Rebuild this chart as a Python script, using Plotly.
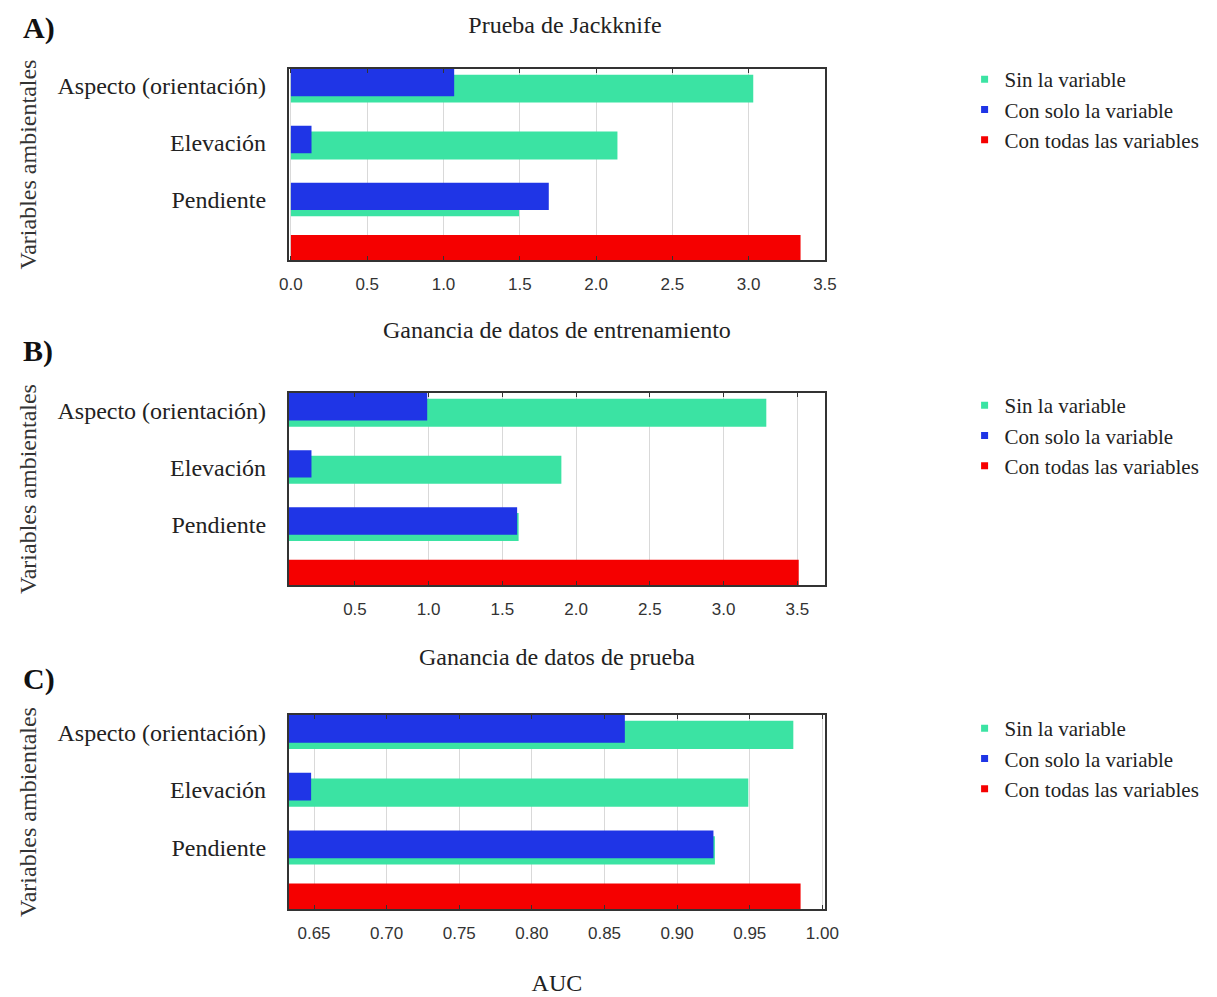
import numpy as np
import plotly.graph_objects as go

# ---- data -------------------------------------------------------------
variables = ["Aspecto (orientación)", "Elevación", "Pendiente"]

# A) regularized training gain
train_sin = [3.03, 2.14, 1.495]
train_solo = [1.07, 0.135, 1.69]
train_todas = 3.34

# B) test gain
test_sin = [3.29, 1.90, 1.61]
test_solo = [0.99, 0.205, 1.60]
test_todas = 3.51

# C) AUC
auc_sin = [0.980, 0.949, 0.926]
auc_solo = [0.864, 0.648, 0.925]
auc_todas = 0.985

legend_names = ["Sin la variable", "Con solo la variable", "Con todas las variables"]
panel_tags = ["A)", "B)", "C)"]
x_titles = ["Ganancia de datos de entrenamiento", "Ganancia de datos de prueba", "AUC"]
y_title = "Variables ambientales"
main_title = "Prueba de Jackknife"

# ---- styling ----------------------------------------------------------
W, H = 1217, 997
GREEN, BLUE, RED = "#3be3a3", "#1f35e6", "#f50000"
SERIF = "Liberation Serif"
SANS = "Liberation Sans"


def fx(p):
    return p / W


def fy(p):
    return 1 - p / H


panels = [
    dict(sin=train_sin, solo=train_solo, todas=train_todas, top=69, bottom=260,
         xr=[-0.015, 3.502], tick0=0.0, dtick=0.5, fmt=".1f", leg_top=59,
         tag_y=28, title_off=28),
    dict(sin=test_sin, solo=test_solo, todas=test_todas, top=393, bottom=585,
         xr=[0.05, 3.69], tick0=0.0, dtick=0.5, fmt=".1f", leg_top=385,
         tag_y=351, title_off=30),
    dict(sin=auc_sin, solo=auc_solo, todas=auc_todas, top=715, bottom=909,
         xr=[0.6325, 1.002], tick0=0.65, dtick=0.05, fmt=".2f", leg_top=708,
         tag_y=679, title_off=32),
]

n = len(variables)
idx = np.arange(n)
Y_RANGE = [3.36, 0.0]          # top of the panel at 0, categories go downward
grid_pos = list(np.arange(n + 1) + 0.18)
label_pos = list(idx + 0.3)

fig = go.Figure()
layout = dict(
    width=W, height=H,
    margin=dict(l=0, r=0, t=0, b=0),
    paper_bgcolor="white", plot_bgcolor="white",
    barmode="overlay",
    showlegend=True,
    title=dict(text=main_title, x=fx(565), y=fy(25), xanchor="center", yanchor="middle",
               font=dict(family=SERIF, size=24, color="#222")),
    annotations=[],
)

for i, p in enumerate(panels, start=1):
    xa = "x" if i == 1 else f"x{i}"
    ya = "y" if i == 1 else f"y{i}"
    leg = "legend" if i == 1 else f"legend{i}"

    # bar without the variable (drawn first, slightly lower)
    fig.add_trace(go.Bar(
        x=p["sin"], y=idx + 0.345, width=0.49, orientation="h",
        marker=dict(color=GREEN, line=dict(width=0)),
        xaxis=xa, yaxis=ya, showlegend=False, hoverinfo="x"))
    # bar with only the variable
    fig.add_trace(go.Bar(
        x=p["solo"], y=idx + 0.24, width=0.48, orientation="h",
        marker=dict(color=BLUE, line=dict(width=0)),
        xaxis=xa, yaxis=ya, showlegend=False, hoverinfo="x"))
    # bar with all the variables
    fig.add_trace(go.Bar(
        x=[p["todas"]], y=[n + 0.15], width=0.46, orientation="h",
        marker=dict(color=RED, line=dict(width=0)),
        xaxis=xa, yaxis=ya, showlegend=False, hoverinfo="x"))

    # legend entries with small square swatches
    for name, col in zip(legend_names, [GREEN, BLUE, RED]):
        fig.add_trace(go.Scatter(
            x=[None], y=[None], mode="markers", name=name,
            marker=dict(symbol="square", size=7, color=col),
            xaxis=xa, yaxis=ya, legend=leg, showlegend=True))

    xdom = [fx(285), fx(832)]
    ydom = [fy(p["bottom"]), fy(p["top"])]

    layout["xaxis" if i == 1 else f"xaxis{i}"] = dict(
        domain=xdom, anchor=ya, range=p["xr"], tick0=p["tick0"], dtick=p["dtick"],
        tickformat=p["fmt"], showgrid=True, gridcolor="#d9d9d9", gridwidth=1,
        zeroline=False, showline=True, linecolor="#333", linewidth=1.5, mirror="ticks",
        ticks="inside", ticklen=4, tickcolor="#333",
        tickfont=dict(family=SANS, size=17, color="#333"), ticklabelstandoff=8,
        title=dict(text=x_titles[i - 1], standoff=p["title_off"],
                   font=dict(family=SERIF, size=24, color="#222")),
    )
    # main y axis: variable names and frame
    layout["yaxis" if i == 1 else f"yaxis{i}"] = dict(
        domain=ydom, anchor=xa, range=Y_RANGE, tickmode="array",
        tickvals=label_pos, ticktext=variables, ticks="", showgrid=False,
        zeroline=False, showline=True, linecolor="#333", linewidth=1.5, mirror=True,
        tickfont=dict(family=SERIF, size=24, color="#222"), ticklabelstandoff=16,
        title=dict(text=y_title, standoff=14,
                   font=dict(family=SERIF, size=24, color="#333")),
    )
    # overlay y axis carrying the category grid lines and tick marks
    layout[f"yaxis{i + 3}"] = dict(
        overlaying=ya, anchor=xa, range=Y_RANGE, tickmode="array",
        tickvals=grid_pos, showticklabels=False, showgrid=True, gridcolor="#d9d9d9",
        zeroline=False, showline=False, ticks="inside", ticklen=4, tickcolor="#333",
        mirror="ticks",
    )

    layout[leg] = dict(
        x=fx(974), y=fy(p["leg_top"]), xanchor="left", yanchor="top",
        bgcolor="rgba(0,0,0,0)", itemwidth=30, tracegroupgap=0,
        font=dict(family=SERIF, size=21, color="#222"),
    )

    layout["annotations"].append(dict(
        text=f"<b>{panel_tags[i - 1]}</b>", xref="paper", yref="paper",
        x=fx(12), y=fy(p["tag_y"]), xanchor="left", yanchor="middle",
        showarrow=False, font=dict(family=SERIF, size=30, color="#111")))

fig.update_layout(**layout)
fig.write_html("out.html")
